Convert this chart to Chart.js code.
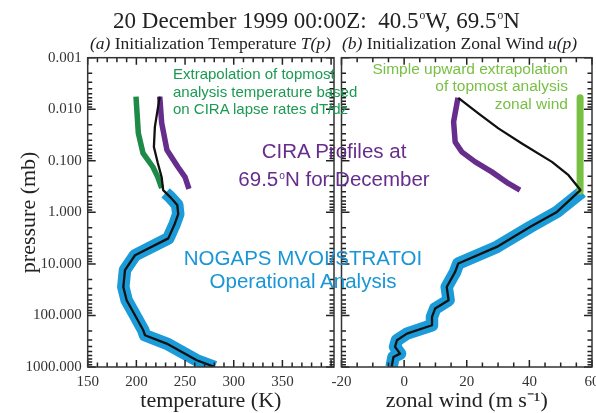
<!DOCTYPE html>
<html><head><meta charset="utf-8">
<script src="https://cdn.jsdelivr.net/npm/chart.js@4"></script>
<style>
html,body{margin:0;padding:0;width:596px;height:413px;overflow:hidden;background:#fff;}
#wrap{position:relative;width:596px;height:413px;overflow:hidden;}
.cv{position:absolute;top:0;height:413px;}
.t{position:absolute;white-space:nowrap;line-height:1;}
.serif{font-family:"Liberation Serif","Times New Roman",serif;color:#222;}
.sans{font-family:"Liberation Sans",Arial,sans-serif;}
.c{transform:translateX(-50%);}
sup.deg{font-size:0.5em;vertical-align:0.75em;line-height:0;margin-left:1px;}
</style></head>
<body><div id="wrap">
<div class="cv" style="left:0;width:340px"><canvas id="c1"></canvas></div>
<div class="cv" style="left:330px;width:290px"><canvas id="c2"></canvas></div>

<div class="t serif c" style="left:316.5px;top:8.7px;font-size:23px">20 December 1999 00:00Z:&nbsp; 40.5<sup class="deg">o</sup>W, 69.5<sup class="deg">o</sup>N</div>
<div class="t serif" style="left:90px;top:35.3px;font-size:17.5px"><i>(a)</i> Initialization Temperature <i>T(p)</i></div>
<div class="t serif" style="left:342px;top:35.3px;font-size:17.5px"><i>(b)</i> Initialization Zonal Wind <i>u(p)</i></div>

<div class="t sans" style="left:173px;top:66.3px;font-size:15px;color:#1b9a52">Extrapolation of topmost</div>
<div class="t sans" style="left:173px;top:83.8px;font-size:15px;color:#1b9a52">analysis temperature based</div>
<div class="t sans" style="left:173px;top:101.3px;font-size:15px;color:#1b9a52">on CIRA lapse rates dT/dz</div>

<div class="t sans c" style="left:334px;top:141px;font-size:20.5px;color:#662d8c">CIRA Profiles at</div>
<div class="t sans c" style="left:334px;top:169.4px;font-size:20.5px;color:#662d8c">69.5<sup class="deg">o</sup>N for December</div>

<div class="t sans c" style="left:303px;top:247.6px;font-size:20.5px;color:#1a96d6">NOGAPS MVOI/STRATOI</div>
<div class="t sans c" style="left:303px;top:271.1px;font-size:20.5px;color:#1a96d6">Operational Analysis</div>

<div class="t sans" style="right:28px;top:61.4px;font-size:15.5px;color:#78c043">Simple upward extrapolation</div>
<div class="t sans" style="right:28px;top:78.4px;font-size:15.5px;color:#78c043">of topmost analysis</div>
<div class="t sans" style="right:28px;top:95.9px;font-size:15.5px;color:#78c043">zonal wind</div>
</div>
<script>
// ---- tick labels ----
const pressureTicks = [0.001, 0.01, 0.1, 1, 10, 100, 1000];
const tempTicks = [150, 200, 250, 300, 350];
const windTicks = [-20, 0, 20, 40, 60];

// ---- (a) temperature (K) vs pressure (mb) ----
const tempPressure = [0.0057, 0.022, 0.054, 0.11, 0.21, 0.37, 0.5, 0.72, 1.08, 1.64, 3.2, 6.8, 13.2, 28, 50.7, 99, 194, 242, 351, 741, 1000];
const tempProfile  = [224, 219, 218, 222, 226, 227.5, 234.5, 242, 243, 239.6, 232.8, 198.6, 188.3, 186.6, 190, 198.6, 207.1, 208.8, 231.1, 262, 280.7];
const nogapsTempPressure = [0.42, 0.5, 0.72, 1.08, 1.64, 3.2, 6.8, 13.2, 28, 50.7, 99, 194, 242, 351, 741, 1000];
const nogapsTemp         = [230, 234.5, 242, 243, 239.6, 232.8, 198.6, 188.3, 186.6, 190, 198.6, 207.1, 208.8, 231.1, 262, 280.7];
const extrapTempPressure = [0.0057, 0.029, 0.071, 0.132, 0.207, 0.34];
const extrapTemp         = [199.6, 202, 206.8, 217, 222, 226];
const ciraTempPressure = [0.0057, 0.0185, 0.062, 0.132, 0.207, 0.35];
const ciraTemp         = [224, 226, 231.4, 242.7, 250, 254];

// ---- (b) zonal wind (m/s) vs pressure (mb) ----
const windPressure = [0.006, 0.012, 0.0235, 0.046, 0.105, 0.19, 0.37, 0.98, 1.91, 4.68, 9.8, 14.3, 28, 50.7, 73.5, 107, 155, 225, 303, 407, 550, 640, 1000];
const windProfile  = [17.3, 23.7, 30.1, 37.6, 47.2, 52.5, 56.3, 48.8, 40.3, 29.6, 17.3, 16.3, 13.6, 14.2, 9.9, 8.9, 8.9, 0.9, -2.3, -2.9, -1.3, -3.4, -4.0];
const nogapsWindPressure = [0.4, 0.98, 1.91, 4.68, 9.8, 14.3, 28, 50.7, 73.5, 107, 155, 225, 303, 407, 550, 640, 1000];
const nogapsWind         = [56.8, 48.8, 40.3, 29.6, 17.3, 16.3, 13.6, 14.2, 9.9, 8.9, 8.9, 0.9, -2.3, -2.9, -1.3, -3.4, -4.0];
const ciraWindPressure = [0.006, 0.0175, 0.043, 0.067, 0.105, 0.164, 0.275, 0.37];
const ciraWind         = [17.2, 15.8, 16.3, 18.4, 22.7, 28, 33.3, 37];
const extrapWindPressure = [0.006, 0.39];
const extrapWind         = [56.2, 56.2];

const pts = (xs, ps) => ps.map((p, i) => ({x: xs[i], y: p}));
const line = (data, color, width, order) => ({data, borderColor: color, borderWidth: width, showLine: true,
  pointRadius: 0, fill: false, order, borderJoinStyle: 'round', borderCapStyle: 'butt'});

const frame = {
  id: 'frame',
  afterDraw(chart, args, o) {
    const {ctx, chartArea: a, scales: {x, y}} = chart;
    ctx.save();
    ctx.strokeStyle = '#222'; ctx.lineWidth = 1.5;
    ctx.beginPath();
    for (let d = 0; d < pressureTicks.length; d++) {
      for (let m = 1; m < 10; m++) {
        const p = m * pressureTicks[d];
        if (p > pressureTicks[pressureTicks.length - 1] * 1.0001) break;
        const py = y.getPixelForValue(p);
        const L = m === 1 ? 8 : 4.5;
        ctx.moveTo(a.left, py); ctx.lineTo(a.left + L, py);
        ctx.moveTo(a.right, py); ctx.lineTo(a.right - L, py);
      }
    }
    for (let v = o.xmin; v <= o.xmax + 1e-9; v += o.xstep) {
      const px = x.getPixelForValue(v);
      const L = (Math.abs(v % o.xmajor) < 1e-9) ? 7 : 4.5;
      ctx.moveTo(px, a.bottom); ctx.lineTo(px, a.bottom - L);
      ctx.moveTo(px, a.top); ctx.lineTo(px, a.top + L);
    }
    ctx.stroke();
    ctx.strokeStyle = '#333'; ctx.lineWidth = 1.5;
    ctx.strokeRect(a.left, a.top, a.right - a.left, a.bottom - a.top);
    ctx.restore();
  }
};

const serif = 'Liberation Serif';
const tickFont = {family: serif, size: 15};
const noPad = s => { s.paddingTop = 0; s.paddingBottom = 0; s.paddingLeft = 0; s.paddingRight = 0; };
const yScale = (showLabels) => ({
  type: 'logarithmic', min: pressureTicks[0], max: pressureTicks[pressureTicks.length - 1], reverse: true,
  display: showLabels,
  afterBuildTicks: s => { s.ticks = pressureTicks.map(v => ({value: v})); },
  afterFit: s => { s.width = showLabels ? 87.7 : 0; noPad(s); },
  grid: {display: false, drawTicks: false}, border: {display: false},
  ticks: {autoSkip: false, padding: 6, color: '#333', font: tickFont, callback: v => Number(v).toFixed(3)},
  title: {display: true, text: 'pressure (mb)', color: '#222', font: {family: serif, size: 22, lineHeight: 1.1}, padding: {top: 17, bottom: 0}}
});
const xScale = (min, max, ticks, title) => ({
  type: 'linear', min, max, position: 'bottom',
  afterBuildTicks: s => { s.ticks = ticks.map(v => ({value: v})); },
  afterFit: s => { s.height = 46; noPad(s); },
  grid: {display: false, drawTicks: false}, border: {display: false},
  ticks: {autoSkip: false, maxRotation: 0, padding: 6, color: '#333', font: tickFont},
  title: {display: true, text: title, color: '#222', font: {family: serif, size: 22, lineHeight: 1.1}, padding: {top: 0, bottom: 0}}
});
const common = {
  responsive: true, maintainAspectRatio: false, animation: false, devicePixelRatio: 1,
  plugins: {legend: {display: false}, tooltip: {enabled: false}, title: {display: false}},
  events: []
};

new Chart(document.getElementById('c1'), {
  type: 'scatter',
  data: {datasets: [
    line(pts(tempProfile, tempPressure), '#111', 2.3, 0),
    line(pts(extrapTemp, extrapTempPressure), '#1d8a47', 5.5, 1),
    line(pts(ciraTemp, ciraTempPressure), '#662d8c', 5.5, 2),
    line(pts(nogapsTemp, nogapsTempPressure), '#1b9bd8', 12.5, 3)
  ]},
  options: Object.assign({}, common, {
    layout: {padding: {left: 0, top: 57.7, right: 6, bottom: 0}},
    scales: {x: xScale(150, 403, tempTicks, 'temperature (K)'), y: yScale(true)},
    plugins: Object.assign({}, common.plugins, {frame: {xmin: 150, xmax: 400, xstep: 10, xmajor: 50}})
  }),
  plugins: [frame]
});

new Chart(document.getElementById('c2'), {
  type: 'scatter',
  data: {datasets: [
    line(pts(windProfile, windPressure), '#111', 2.3, 0),
    line(pts(extrapWind, extrapWindPressure), '#78c043', 7, 1),
    line(pts(ciraWind, ciraWindPressure), '#662d8c', 5.5, 2),
    line(pts(nogapsWind, nogapsWindPressure), '#1b9bd8', 12.5, 3)
  ]},
  options: Object.assign({}, common, {
    layout: {padding: {left: 11.5, top: 57.7, right: 28, bottom: 0}},
    scales: {x: xScale(-20, 60, windTicks, 'zonal wind (m s\u207B\u00B9)'), y: yScale(false)},
    plugins: Object.assign({}, common.plugins, {frame: {xmin: -20, xmax: 60, xstep: 5, xmajor: 20}})
  }),
  plugins: [frame]
});
</script></body></html>
